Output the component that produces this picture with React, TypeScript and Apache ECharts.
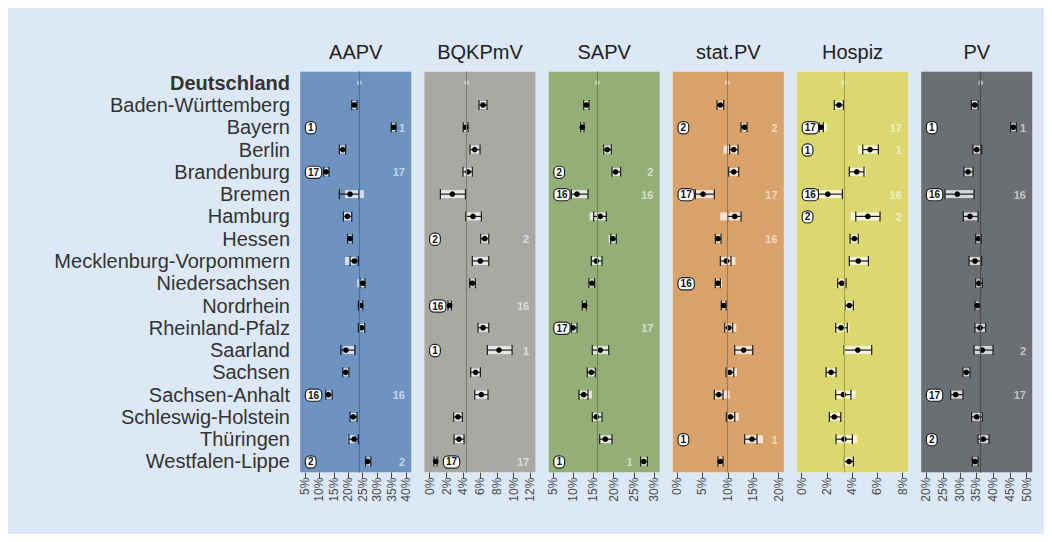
import React, { useEffect, useRef } from 'react';
import * as echarts from 'echarts';

const rowNames = [
  'Deutschland', 'Baden-Württemberg', 'Bayern', 'Berlin', 'Brandenburg', 'Bremen', 'Hamburg',
  'Hessen', 'Mecklenburg-Vorpommern', 'Niedersachsen', 'Nordrhein', 'Rheinland-Pfalz', 'Saarland',
  'Sachsen', 'Sachsen-Anhalt', 'Schleswig-Holstein', 'Thüringen', 'Westfalen-Lippe',
];

const panelTitles = ['AAPV', 'BQKPmV', 'SAPV', 'stat.PV', 'Hospiz', 'PV'];
const referenceValues = [23.8, 4.41, 15.97, 9.9, 3.35, 36.25];
const tickValues = [
  [5, 10, 15, 20, 25, 30, 35, 40],
  [0, 2, 4, 6, 8, 10, 12],
  [5, 10, 15, 20, 25, 30],
  [0, 5, 10, 15, 20],
  [0, 2, 4, 6, 8],
  [20, 25, 30, 35, 40, 45, 50],
];

// [estimate, ciLow, ciHigh, lightLow, lightHigh]
const aapv = [
  [22.1, 21.2, 23.0], [35.7, 34.9, 36.5], [18.1, 16.9, 19.1], [12.3, 11.5, 13.3],
  [20.6, 16.9, 23.7, 18.9, 25.4], [19.7, 18.3, 21.2], [20.6, 19.8, 21.4],
  [22.1, 20.6, 23.5, 18.9, 22.5], [25.0, 24.1, 25.8, 23.1, 25.8], [24.3, 23.5, 25.0],
  [24.6, 23.5, 25.7], [19.2, 17.4, 22.3, 18.3, 22.1], [19.1, 18.1, 20.2], [13.1, 12.2, 14.4],
  [21.7, 20.6, 23.0], [22.0, 20.2, 23.5, 19.8, 22.1], [26.7, 26.0, 27.8],
];
const bqkpmv = [
  [6.36, 5.88, 6.83], [4.29, 4.0, 4.57], [5.37, 4.81, 6.0], [4.57, 3.97, 5.08],
  [2.7, 1.27, 4.25], [5.16, 4.29, 6.16], [6.56, 6.08, 7.04], [6.04, 5.08, 7.04],
  [5.08, 4.77, 5.44], [2.38, 2.18, 2.58], [6.36, 5.76, 7.04], [8.26, 6.87, 9.82],
  [5.48, 4.89, 6.04], [6.16, 5.37, 6.95], [3.37, 2.86, 3.89], [3.49, 2.9, 4.09],
  [0.72, 0.51, 0.87],
];
const sapv = [
  [13.25, 12.6, 13.9], [12.26, 11.86, 12.67], [18.44, 17.55, 19.43], [20.5, 19.6, 21.75],
  [10.94, 9.53, 13.66], [16.7, 15.07, 18.19, 14.08, 18.19], [19.85, 19.28, 20.67, 18.79, 20.67],
  [15.72, 14.48, 17.13], [14.65, 13.9, 15.3], [12.84, 12.26, 13.25], [9.95, 9.53, 10.94],
  [16.7, 14.73, 18.79], [14.48, 13.49, 15.47], [12.6, 11.44, 13.66, 11.44, 14.65],
  [15.72, 14.73, 17.13], [17.95, 16.56, 19.6], [27.45, 26.7, 28.35],
];
const statPv = [
  [8.52, 7.87, 9.18], [13.24, 12.59, 13.77], [11.15, 10.36, 12.0, 9.18, 12.0],
  [11.15, 10.17, 12.13], [5.11, 3.6, 7.34], [11.35, 9.97, 12.59, 8.52, 12.59],
  [8.06, 7.54, 8.65], [9.7, 8.52, 10.62, 8.52, 11.46], [8.0, 7.54, 8.52, 7.54, 8.85],
  [9.18, 8.71, 9.64], [10.17, 9.38, 10.95, 9.38, 11.66], [13.11, 11.35, 14.89],
  [10.36, 9.64, 11.15, 9.64, 11.8], [8.2, 7.34, 9.05, 7.34, 10.36],
  [10.49, 9.7, 11.35, 9.7, 12.13], [14.75, 13.31, 15.73, 13.31, 16.91], [8.52, 8.06, 9.05],
];
const hospiz = [
  [2.95, 2.58, 3.3], [1.53, 1.39, 1.71, 1.39, 1.98], [5.41, 4.83, 6.07, 4.48, 6.07],
  [4.36, 3.77, 4.93, 3.77, 5.09], [2.06, 1.31, 3.22], [5.23, 4.28, 6.2, 3.88, 6.2],
  [4.17, 3.83, 4.48], [4.48, 3.77, 5.28], [3.17, 2.85, 3.51], [3.77, 3.43, 4.09, 3.3, 4.09],
  [3.11, 2.69, 3.61, 2.69, 3.77], [4.44, 3.35, 5.54], [2.32, 1.93, 2.72],
  [3.3, 2.69, 3.9, 2.69, 4.28], [2.58, 2.19, 3.09], [3.35, 2.72, 4.01, 2.72, 4.41],
  [3.75, 3.38, 4.09],
];
const pv = [
  [34.46, 33.45, 35.45], [46.0, 45.2, 46.9], [35.06, 33.95, 36.55], [32.46, 31.26, 33.95],
  [29.26, 25.59, 34.25], [33.06, 31.05, 35.45], [35.54, 34.76, 36.43], [34.55, 32.76, 36.55],
  [35.75, 34.76, 36.73], [35.24, 34.55, 36.04], [36.04, 34.55, 37.75], [36.73, 34.25, 39.93],
  [31.95, 30.96, 33.06], [28.78, 27.29, 30.96], [35.06, 33.56, 36.73], [37.03, 35.45, 38.73],
  [34.55, 33.75, 35.45],
];
const panelData = [aapv, bqkpmv, sapv, statPv, hospiz, pv];

// rank badges (left, boxed) and rank labels (right, light); 0 = none
const badgeRanks = [
  [0, 1, 0, 17, 0, 0, 0, 0, 0, 0, 0, 0, 0, 16, 0, 0, 2],
  [0, 0, 0, 0, 0, 0, 2, 0, 0, 16, 0, 1, 0, 0, 0, 0, 17],
  [0, 0, 0, 2, 16, 0, 0, 0, 0, 0, 17, 0, 0, 0, 0, 0, 1],
  [0, 2, 0, 0, 17, 0, 0, 0, 16, 0, 0, 0, 0, 0, 0, 1, 0],
  [0, 17, 1, 0, 16, 2, 0, 0, 0, 0, 0, 0, 0, 0, 0, 0, 0],
  [0, 1, 0, 0, 16, 0, 0, 0, 0, 0, 0, 0, 0, 17, 0, 2, 0],
];
const rightRanks = [
  [0, 1, 0, 17, 0, 0, 0, 0, 0, 0, 0, 0, 0, 16, 0, 0, 2],
  [0, 0, 0, 0, 0, 0, 2, 0, 0, 16, 0, 1, 0, 0, 0, 0, 17],
  [0, 0, 0, 2, 16, 0, 0, 0, 0, 0, 17, 0, 0, 0, 0, 0, 1],
  [0, 2, 0, 0, 17, 0, 16, 0, 0, 0, 0, 0, 0, 0, 0, 1, 0],
  [0, 17, 1, 0, 16, 2, 0, 0, 0, 0, 0, 0, 0, 0, 0, 0, 0],
  [0, 1, 0, 0, 16, 0, 0, 0, 0, 0, 0, 2, 0, 17, 0, 0, 0],
];

const panelColors = ['#6e93c1', '#a8a9a5', '#94ae77', '#d9a26b', '#dcd870', '#6b6e72'];
const refColors = ['#4d6f99', '#7f807c', '#6c8752', '#a47a4e', '#a9a553', '#4c4f52'];
const axisMin = [3.27, -0.66, 3.86, -0.87, -0.39, 18.42];
const axisMax = [41.9, 12.64, 31.46, 21.06, 8.44, 51.73];

const FONT = '"Liberation Sans", Arial, Helvetica, sans-serif';
const OFF = 8;
const GRID_LEFT0 = 300 - OFF;
const GRID_STEP = 124.2;
const GRID_W = 111.5;
const GRID_TOP = 71.6 - OFF;
const GRID_H = 401;

const renderItem = (params: any, api: any) => {
  const cs = params.coordSys;
  const idx = api.value(0);
  const y = api.coord([api.value(1), idx])[1];
  const px = (v: number) => api.coord([v, idx])[0];
  const xv = px(api.value(1));
  const xlo = px(api.value(2));
  const xhi = px(api.value(3));
  const bl = px(api.value(4));
  const bh = px(api.value(5));
  const badge = api.value(6);
  const rr = api.value(7);
  const ink = '#1b1b1b';
  const children: any[] = [
    { type: 'rect', shape: { x: bl, y: y - 4, width: bh - bl, height: 8 }, style: { fill: 'rgba(255,255,255,0.72)' } },
    { type: 'line', shape: { x1: xlo, y1: y, x2: xhi, y2: y }, style: { stroke: ink, lineWidth: 1.2 } },
    { type: 'line', shape: { x1: xlo, y1: y - 5, x2: xlo, y2: y + 5 }, style: { stroke: ink, lineWidth: 1.2 } },
    { type: 'line', shape: { x1: xhi, y1: y - 5, x2: xhi, y2: y + 5 }, style: { stroke: ink, lineWidth: 1.2 } },
    { type: 'circle', shape: { cx: xv, cy: y, r: 2.8 }, style: { fill: '#000' } },
  ];
  if (badge) {
    const bx = xlo < cs.x + 20 ? xhi + 7 : cs.x + 6;
    children.push({
      type: 'text', x: bx, y: y + 0.5,
      style: {
        text: String(badge), fill: '#111', font: `bold 10px ${FONT}`,
        align: 'left', verticalAlign: 'middle',
        backgroundColor: '#ffffff', borderColor: '#222', borderWidth: 1.2, borderRadius: 4,
        padding: [1, 2, 0, 2],
      },
    });
  }
  if (rr) {
    const right = cs.x + cs.width;
    const rx = xhi > right - 14 ? xlo - 8 : right - 6.5;
    children.push({
      type: 'text', x: rx, y: y + 0.5,
      style: {
        text: String(rr), fill: 'rgba(255,255,255,0.62)', font: `bold 11px ${FONT}`,
        align: 'right', verticalAlign: 'middle',
      },
    });
  }
  return { type: 'group', children };
};

export default function App() {
  const ref = useRef<HTMLDivElement>(null);
  useEffect(() => {
    if (!ref.current) return;
    const chart = echarts.init(ref.current, undefined, { renderer: 'svg' });
    const grids: any[] = [];
    const xAxes: any[] = [];
    const yAxes: any[] = [];
    const series: any[] = [];
    const graphics: any[] = [];
    panelTitles.forEach((title, i) => {
      const left = GRID_LEFT0 + i * GRID_STEP;
      grids.push({
        left, top: GRID_TOP, width: GRID_W, height: GRID_H, show: true,
        backgroundColor: panelColors[i], borderColor: 'rgba(255,255,255,0.35)', borderWidth: 1,
      });
      xAxes.push({
        type: 'value', gridIndex: i, min: axisMin[i], max: axisMax[i],
        axisLine: { show: false }, splitLine: { show: false },
        axisTick: { show: true, length: 6, lineStyle: { color: '#444', width: 1 }, customValues: tickValues[i] },
        axisLabel: {
          show: true, rotate: 90, fontSize: 12, color: '#4a4a4a', margin: 5, fontFamily: FONT,
          customValues: tickValues[i], formatter: (v: number) => `${v}%`,
        },
      });
      yAxes.push({
        type: 'category', gridIndex: i, data: rowNames, inverse: true,
        axisLine: { show: false }, axisTick: { show: false }, splitLine: { show: false },
        axisLabel: i === 0 ? {
          show: true, interval: 0, hideOverlap: false, fontSize: 20, color: '#333', margin: 10, fontFamily: FONT,
          formatter: (v: string) => (v === 'Deutschland' ? `{b|${v}}` : v),
          rich: { b: { fontWeight: 'bold', fontSize: 20, color: '#333', fontFamily: FONT } },
        } : { show: false },
      });
      series.push({
        type: 'scatter', xAxisIndex: i, yAxisIndex: i, z: 1, symbolSize: 0,
        data: [[referenceValues[i], 'Deutschland']],
        markLine: {
          silent: true, symbol: ['none', 'none'], label: { show: false },
          lineStyle: { color: refColors[i], width: 1.2, type: 'solid' },
          data: [{ xAxis: referenceValues[i] }],
        },
      });
      series.push({
        type: 'custom', xAxisIndex: i, yAxisIndex: i, z: 3,
        encode: { x: [1, 2, 3, 4, 5], y: 0 },
        renderItem,
        data: panelData[i].map((r, k) => [
          rowNames[k + 1], r[0], r[1], r[2], r[3] ?? r[1], r[4] ?? r[2], badgeRanks[i][k], rightRanks[i][k],
        ]),
      });
      series.push({
        type: 'scatter', xAxisIndex: i, yAxisIndex: i, z: 4, symbolSize: 5,
        itemStyle: { color: 'rgba(255,255,255,0.65)' },
        data: [[referenceValues[i], 'Deutschland']],
      });
      graphics.push({
        type: 'text', x: left + GRID_W / 2, y: 52 - OFF,
        style: { text: title, font: `20px ${FONT}`, fill: '#222', align: 'center', verticalAlign: 'middle' },
      });
    });
    chart.setOption({
      animation: false,
      backgroundColor: '#dce8f5',
      textStyle: { fontFamily: FONT },
      grid: grids,
      xAxis: xAxes,
      yAxis: yAxes,
      series,
      graphic: graphics,
    });
    return () => chart.dispose();
  }, []);
  return <div ref={ref} style={{ width: 1036, height: 526 }} />;
}
